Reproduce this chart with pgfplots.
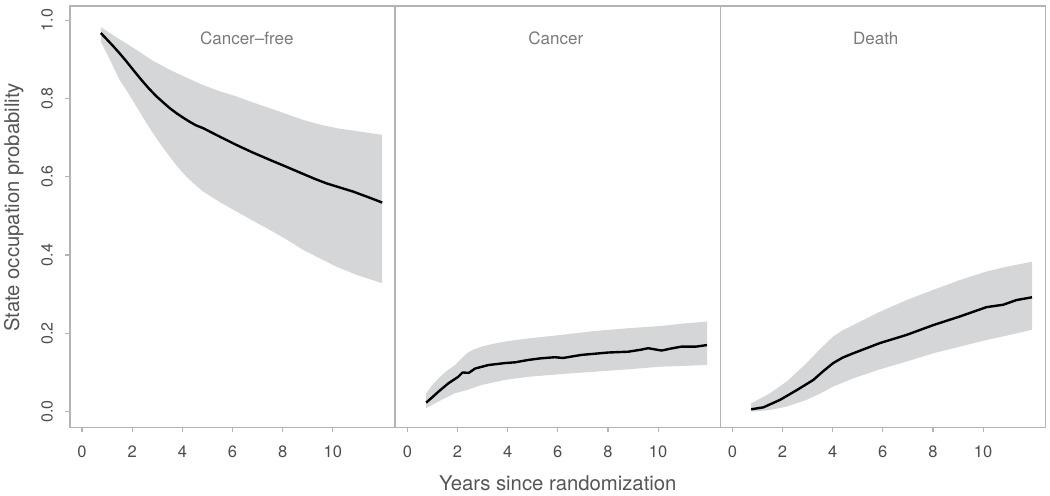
\documentclass[border=0pt]{standalone}
\usepackage{pgfplots}
\pgfplotsset{compat=1.18}
\usepackage{fontspec}
\setmainfont{TeX Gyre Heros}
\definecolor{axisgray}{HTML}{B4B4B4}
\definecolor{bandgray}{HTML}{D5D6D8}
\definecolor{ticktext}{HTML}{4D4D4D}
\definecolor{titletext}{HTML}{7A7A7A}
\definecolor{labeltext}{HTML}{555555}
\pgfplotsset{
  panel/.style={
    scale only axis, width=325bp, height=421.3bp,
    xmin=-0.48, xmax=12.48, ymin=-0.04, ymax=1.036,
    axis line style={draw=axisgray, line width=1.1bp},
    tick style={draw=axisgray, line width=1.1bp},
    tick align=outside, major tick length=5bp,
    xtick={0,2,4,6,8,10}, xticklabels={0,2,4,6,8,10},
    xtick pos=left, ytick pos=left,
    xticklabel shift=13bp, yticklabel shift=12bp,
    xticklabel style={font=\fontsize{16.5bp}{18bp}\selectfont, text=ticktext, anchor=north, inner sep=0pt},
    yticklabel style={font=\fontsize{16bp}{18bp}\selectfont, text=ticktext, rotate=90, anchor=south, inner sep=0pt},
  },
}
\tikzset{
  band/.style={fill=bandgray, draw=none},
  est/.style={black, line width=2.4bp, line join=round},
  ttl/.style={anchor=base, text=titletext, font=\fontsize{17bp}{19bp}\selectfont},
}
\begin{document}
\begin{tikzpicture}
\useasboundingbox (0,0) rectangle (1050bp,496bp);
% Panel 1: Cancer-free
\begin{axis}[panel, at={(70bp,68.7bp)}, anchor=south west,
  ytick={0,0.2,0.4,0.6,0.8,1.0}, yticklabels={{0.0},{0.2},{0.4},{0.6},{0.8},{1.0}},
  ylabel={State occupation probability},
  ylabel style={at={(axis description cs:-0.1569,0.5217)}, anchor=base, rotate=0,
    text=labeltext, font=\fontsize{20.3bp}{22bp}\selectfont, inner sep=0pt}]
\addplot[band] coordinates {
(0.75,0.982) (1.4,0.955) (2.17,0.924) (2.8,0.897) (3.5,0.873) (4.2,0.852) (4.83,0.834)
(5.5,0.818) (6.16,0.805) (6.8,0.790) (7.49,0.775) (8.2,0.759) (8.82,0.745) (9.5,0.733)
(10.15,0.724) (11.0,0.716) (11.97,0.707)
(11.97,0.328) (11.0,0.348) (10.15,0.370) (9.5,0.391) (8.82,0.413) (8.2,0.438) (7.49,0.464)
(6.8,0.488) (6.16,0.511) (5.5,0.535) (4.83,0.562) (4.5,0.580) (4.16,0.600) (3.8,0.626)
(3.5,0.651) (3.15,0.681) (2.83,0.711) (2.5,0.744) (2.17,0.779) (1.8,0.818) (1.5,0.847)
(1.1,0.900) (0.75,0.945)} -- cycle;
\addplot[est] coordinates {
(0.75,0.967) (1.0,0.950) (1.25,0.933) (1.5,0.915) (1.75,0.896) (2.0,0.876) (2.37,0.847)
(2.67,0.825) (2.97,0.805) (3.25,0.789) (3.5,0.775) (3.77,0.762) (4.05,0.750) (4.3,0.740)
(4.55,0.731) (4.83,0.724) (5.5,0.702) (6.16,0.681) (6.8,0.662) (7.49,0.643)
(8.2,0.624) (8.82,0.607) (9.3,0.594) (9.75,0.583) (10.3,0.572) (10.81,0.562) (11.4,0.548)
(11.97,0.534)};
\node[ttl] at (axis cs:6.57,0.938) {Cancer\textendash free};
\end{axis}
% Panel 2: Cancer
\begin{axis}[panel, at={(395.3bp,68.7bp)}, anchor=south west, ytick=\empty,
  xlabel={Years since randomization},
  xlabel style={at={(axis description cs:0.5,-0.1498)}, anchor=base,
    text=labeltext, font=\fontsize{20.3bp}{22bp}\selectfont, inner sep=0pt}]
\addplot[band] coordinates {
(0.75,0.047) (1.0,0.068) (1.24,0.085) (1.55,0.103) (1.9,0.119) (2.15,0.135) (2.37,0.149)
(2.65,0.159) (2.96,0.166) (3.4,0.173) (3.89,0.179) (4.82,0.187)
(6.15,0.196) (7.48,0.206) (8.8,0.213) (10.14,0.219) (11.0,0.225) (11.95,0.230)
(11.95,0.119) (10.14,0.115) (8.8,0.108) (7.48,0.102) (6.15,0.096) (4.82,0.089) (3.89,0.081)
(2.96,0.068) (2.37,0.055) (1.9,0.047) (1.24,0.026) (0.75,0.009)} -- cycle;
\addplot[est] coordinates {
(0.75,0.023) (1.0,0.037) (1.24,0.051) (1.63,0.072) (2.03,0.089) (2.2,0.100) (2.45,0.099)
(2.7,0.110) (3.23,0.119) (3.89,0.124) (4.3,0.126) (4.82,0.132) (5.3,0.136) (5.88,0.139)
(6.2,0.137) (6.95,0.145) (7.5,0.148) (8.01,0.151) (8.8,0.153) (9.3,0.158) (9.6,0.162)
(10.14,0.156) (10.5,0.161) (10.93,0.166) (11.5,0.166) (11.95,0.170)};
\node[ttl] at (axis cs:5.92,0.938) {Cancer};
\end{axis}
% Panel 3: Death
\begin{axis}[panel, at={(720.3bp,68.7bp)}, anchor=south west, ytick=\empty]
\addplot[band] coordinates {
(0.75,0.021) (1.5,0.047) (2.17,0.077) (2.96,0.124) (3.5,0.160) (4.02,0.192) (4.4,0.208)
(4.82,0.221) (5.88,0.255)
(6.95,0.285) (8.01,0.311) (9.07,0.336) (10.14,0.358) (10.93,0.370) (11.95,0.383)
(11.95,0.209) (11.07,0.196) (10.14,0.183) (9.07,0.166) (8.01,0.149) (6.95,0.128) (5.88,0.108)
(4.82,0.085) (4.02,0.064) (3.5,0.046) (2.96,0.030) (2.17,0.013) (1.5,0.004) (0.75,0.000)} -- cycle;
\addplot[est] coordinates {
(0.75,0.006) (1.24,0.011) (1.9,0.030) (2.57,0.055) (3.23,0.081) (3.6,0.102) (4.02,0.124)
(4.4,0.138) (4.82,0.149)
(5.88,0.175) (6.95,0.196) (8.01,0.221) (9.07,0.243) (10.14,0.267) (10.8,0.273) (11.33,0.285)
(11.95,0.292)};
\node[ttl] at (axis cs:5.72,0.938) {Death};
\end{axis}
\end{tikzpicture}
\end{document}
